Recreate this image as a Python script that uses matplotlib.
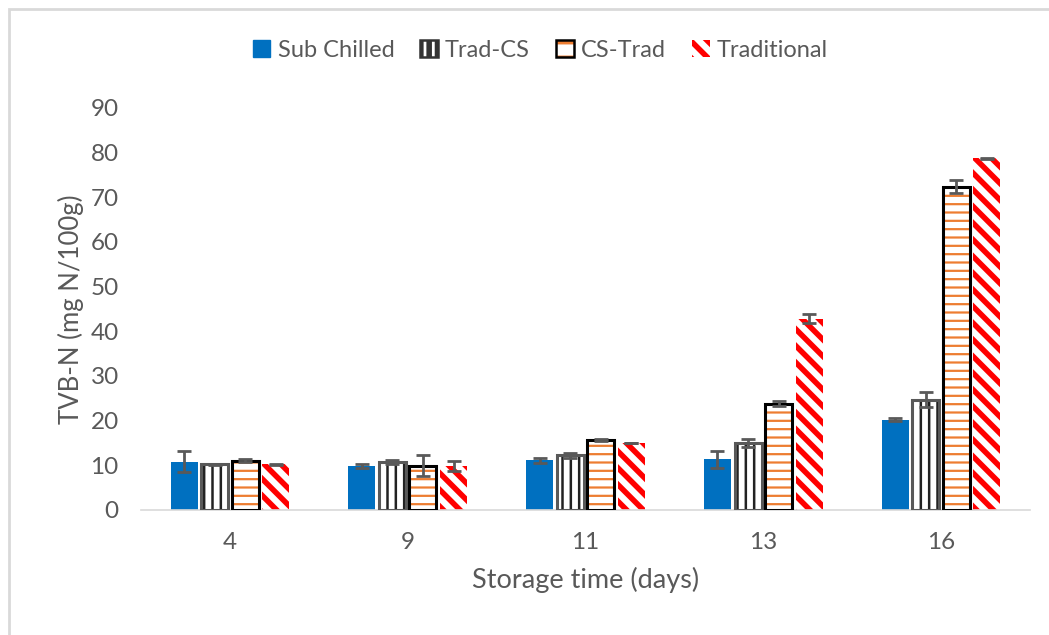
import matplotlib.pyplot as plt
import matplotlib.patches as mpatches
from matplotlib.legend_handler import HandlerTuple
import numpy as np

plt.rcParams['font.family'] = ['Lato', 'DejaVu Sans']

# storage days and TVB-N readings
days = ["4", "9", "11", "13", "16"]
series = ["Sub Chilled", "Trad-CS", "CS-Trad", "Traditional"]

sub_chilled = [10.8, 9.8, 11.1, 11.3, 20.2]
sub_chilled_err = [2.3, 0.5, 0.5, 2.0, 0.3]
trad_cs = [10.2, 10.7, 12.2, 15.0, 24.7]
trad_cs_err = [0.1, 0.5, 0.6, 0.9, 1.6]
cs_trad = [11.0, 9.9, 15.6, 23.8, 72.4]
cs_trad_err = [0.3, 2.3, 0.2, 0.5, 1.5]
traditional = [10.2, 9.8, 15.0, 42.8, 78.7]
traditional_err = [0.1, 1.1, 0.1, 1.0, 0.1]

grey = "#595959"
blue = "#0070C0"
orange = "#ED7D31"
red = "#FF0000"

fig = plt.figure(figsize=(10.49, 6.35), dpi=100)
ax = fig.add_axes([0.1344, 0.1969, 0.8475, 0.6331])

x = np.arange(len(days))
w = 0.152
step = 0.172
offs = (np.arange(4) - 1.5) * step

err_kw = dict(ecolor=grey, elinewidth=2, capsize=5, capthick=2)


def hatch_lw(bars, lw):
    for b in bars:
        if hasattr(b, "set_hatch_linewidth"):
            b.set_hatch_linewidth(lw)


ax.bar(x + offs[0], sub_chilled, w, color=blue, yerr=sub_chilled_err,
       error_kw=err_kw, zorder=2)

plt.rcParams['hatch.linewidth'] = 1.8
b = ax.bar(x + offs[1], trad_cs, w, facecolor="white", edgecolor="#222222",
           hatch="||", linewidth=0, zorder=2)
hatch_lw(b, 1.8)
ax.bar(x + offs[1], trad_cs, w, facecolor="none", edgecolor=grey,
       linewidth=2.2, yerr=trad_cs_err, error_kw=err_kw, zorder=3)

plt.rcParams['hatch.linewidth'] = 1.6
b = ax.bar(x + offs[2], cs_trad, w, facecolor="white", edgecolor=orange,
           hatch="--", linewidth=0, zorder=2)
hatch_lw(b, 1.6)
ax.bar(x + offs[2], cs_trad, w, facecolor="none", edgecolor="black",
       linewidth=2.2, yerr=cs_trad_err, error_kw=err_kw, zorder=3)

plt.rcParams['hatch.linewidth'] = 4.0
b = ax.bar(x + offs[3], traditional, w, facecolor="white", edgecolor=red,
           hatch="\\\\", linewidth=0, zorder=2)
hatch_lw(b, 4.0)
ax.errorbar(x + offs[3], traditional, yerr=traditional_err, fmt="none",
            zorder=3, **err_kw)

ax.set_xlim(-0.5, len(days) - 0.5)
ax.set_ylim(0, 90)
ax.set_yticks(np.arange(0, 91, 10))
ax.set_xticks(x)
ax.set_xticklabels(days)
ax.tick_params(length=0, labelsize=17.5, labelcolor=grey)
ax.tick_params(axis="x", pad=16)
ax.tick_params(axis="y", pad=16)
for s in ["top", "right", "left"]:
    ax.spines[s].set_visible(False)
ax.spines["bottom"].set_color("#D9D9D9")
ax.spines["bottom"].set_linewidth(1.2)

ax.set_xlabel("Storage time (days)", fontsize=19.5, color=grey, labelpad=10)
ax.set_ylabel("TVB-N (mg N/100g)", fontsize=18.5, color=grey, labelpad=5)

h_sub = mpatches.Patch(facecolor=blue, edgecolor=blue)
h_tcs = mpatches.Patch(facecolor="white", edgecolor="#333333", hatch="||", linewidth=1.8)
h_cst = (mpatches.Patch(facecolor="white", edgecolor=orange, hatch="-", linewidth=0),
         mpatches.Patch(facecolor="none", edgecolor="black", linewidth=1.8))
h_tra = mpatches.Patch(facecolor="white", edgecolor=red, hatch="\\\\", linewidth=0)
leg = fig.legend([h_sub, h_tcs, h_cst, h_tra], series, loc="center",
                 bbox_to_anchor=(0.515, 0.921), ncol=4, frameon=False,
                 fontsize=17, handlelength=0.75, handleheight=0.75,
                 handletextpad=0.3, columnspacing=1.1,
                 handler_map={tuple: HandlerTuple(ndivide=1)})
for t in leg.get_texts():
    t.set_color(grey)

# outer chart frame
fig.patches.append(mpatches.Rectangle((9 / 1049, -0.05), 1.1, 1 - 9 / 635 + 0.05,
                                      transform=fig.transFigure, fill=False,
                                      edgecolor="#D9D9D9", linewidth=2))

fig.savefig("out.png", dpi=100)
